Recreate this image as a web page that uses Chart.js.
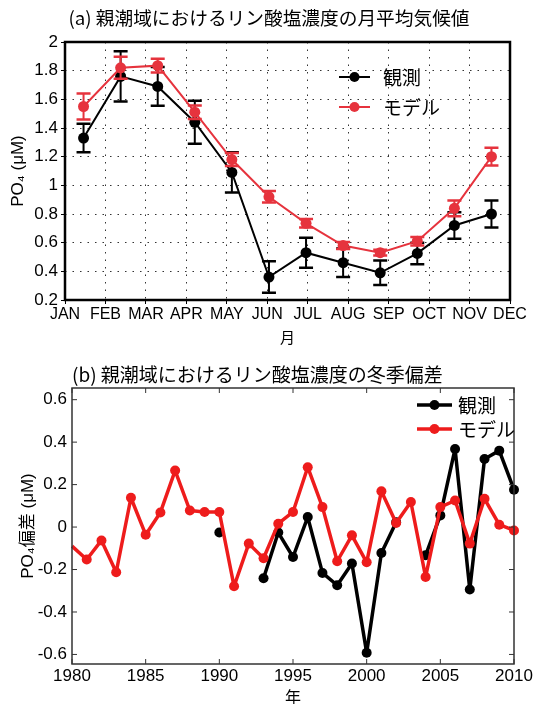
<!DOCTYPE html>
<html>
<head>
<meta charset="utf-8">
<script src="https://cdn.jsdelivr.net/npm/chart.js@4.4.1/dist/chart.umd.min.js"></script>
<style>
  html, body { margin: 0; padding: 0; background: #fff; overflow: hidden; width: 535px; height: 704px; }
  .box { position: absolute; left: 0; width: 535px; }
  #boxA { top: 0; height: 350px; }
  #boxB { top: 350px; height: 364px; }
</style>
</head>
<body>
<div class="box" id="boxA"><canvas id="climChart" width="535" height="350"></canvas></div>
<div class="box" id="boxB"><canvas id="anomChart" width="535" height="364"></canvas></div>
<script>
// (a) monthly climatology
const months = ['JAN', 'FEB', 'MAR', 'APR', 'MAY', 'JUN', 'JUL', 'AUG', 'SEP', 'OCT', 'NOV', 'DEC'];
const obsMean = [1.33, 1.76, 1.69, 1.44, 1.09, 0.36, 0.53, 0.46, 0.39, 0.525, 0.72, 0.80];
const obsErr = [0.10, 0.175, 0.135, 0.15, 0.14, 0.11, 0.105, 0.10, 0.085, 0.075, 0.093, 0.094];
const modelMean = [1.55, 1.82, 1.835, 1.51, 1.18, 0.92, 0.735, 0.58, 0.53, 0.61, 0.84, 1.20];
const modelErr = [0.09, 0.077, 0.048, 0.047, 0.045, 0.04, 0.03, 0.025, 0.02, 0.03, 0.055, 0.062];
const climYTicks = [0.2, 0.4, 0.6, 0.8, 1, 1.2, 1.4, 1.6, 1.8, 2];

// (b) winter anomaly
const years = [1980, 1981, 1982, 1983, 1984, 1985, 1986, 1987, 1988, 1989,
               1990, 1991, 1992, 1993, 1994, 1995, 1996, 1997, 1998, 1999,
               2000, 2001, 2002, 2003, 2004, 2005, 2006, 2007, 2008, 2009, 2010];
const obsAnom = [null, null, null, null, null, null, null, null, null, null,
                 -0.026, null, null, -0.241, -0.026, -0.141, 0.047, -0.216, -0.274, -0.172,
                 -0.592, -0.122, 0.023, null, -0.133, 0.055, 0.368, -0.294, 0.321, 0.36, 0.176];
const modelAnom = [-0.09, -0.153, -0.063, -0.213, 0.138, -0.036, 0.069, 0.266, 0.078, 0.071,
                   0.071, -0.279, -0.078, -0.147, 0.016, 0.071, 0.282, 0.094, -0.161, -0.039,
                   -0.166, 0.169, 0.019, 0.118, -0.235, 0.094, 0.125, -0.078, 0.133, 0.011, -0.016];
const anomXTicks = [1980, 1985, 1990, 1995, 2000, 2005, 2010];
const anomYTicks = [-0.6, -0.4, -0.2, 0, 0.2, 0.4, 0.6];

const seriesNames = ['観測', 'モデル'];

Chart.defaults.font.family = "'Liberation Sans', 'Noto Sans CJK JP', sans-serif";
Chart.defaults.color = '#000';

const cjk = "'Noto Sans CJK JP', sans-serif";
const narrow = "'Liberation Sans Narrow', 'Liberation Sans', sans-serif";

// error bars drawn under each dataset's own line
const errorBars = {
  id: 'errorBars',
  beforeDatasetDraw(chart, args) {
    const ds = chart.data.datasets[args.index];
    if (!ds.errors) return;
    const ctx = chart.ctx, x = chart.scales.x, y = chart.scales.y;
    ctx.save();
    ctx.strokeStyle = ds.borderColor;
    ds.data.forEach((p, i) => {
      const px = x.getPixelForValue(p.x);
      const top = y.getPixelForValue(p.y + ds.errors[i]);
      const bot = y.getPixelForValue(p.y - ds.errors[i]);
      ctx.lineWidth = 2;
      ctx.beginPath(); ctx.moveTo(px, top); ctx.lineTo(px, bot); ctx.stroke();
      ctx.lineWidth = 2.5;
      ctx.beginPath();
      ctx.moveTo(px - 7, top); ctx.lineTo(px + 7, top);
      ctx.moveTo(px - 7, bot); ctx.lineTo(px + 7, bot);
      ctx.stroke();
    });
    ctx.restore();
  }
};

// box round the plot, optional inward ticks, title and legend
const decor = {
  id: 'decor',
  afterDraw(chart, args, o) {
    const ctx = chart.ctx, a = chart.chartArea;
    ctx.save();
    ctx.strokeStyle = o.frameColor;
    ctx.lineWidth = o.frameWidth;
    ctx.strokeRect(a.left, a.top, a.right - a.left, a.bottom - a.top);
    if (o.inTicks) {
      ctx.lineWidth = 1;
      chart.scales.x.ticks.forEach(t => {
        const px = chart.scales.x.getPixelForValue(t.value);
        ctx.beginPath();
        ctx.moveTo(px, a.bottom); ctx.lineTo(px, a.bottom - 5);
        ctx.moveTo(px, a.top); ctx.lineTo(px, a.top + 5);
        ctx.stroke();
      });
      chart.scales.y.ticks.forEach(t => {
        const py = chart.scales.y.getPixelForValue(t.value);
        ctx.beginPath();
        ctx.moveTo(a.left, py); ctx.lineTo(a.left + 5, py);
        ctx.moveTo(a.right, py); ctx.lineTo(a.right - 5, py);
        ctx.stroke();
      });
    }
    // title
    ctx.fillStyle = '#000';
    ctx.font = o.titleFont;
    ctx.textAlign = o.titleAlign;
    ctx.textBaseline = 'middle';
    ctx.fillText(o.title, o.titleX, o.titleY);
    // legend (line with marker)
    ctx.textAlign = 'left';
    ctx.font = o.legendFont;
    o.legendOrder.forEach((di, row) => {
      const ds = chart.data.datasets[di];
      const y = o.legendY + row * o.legendGap;
      ctx.strokeStyle = ds.borderColor;
      ctx.lineWidth = ds.borderWidth;
      ctx.beginPath(); ctx.moveTo(o.legendX, y); ctx.lineTo(o.legendX + o.legendLen, y); ctx.stroke();
      ctx.fillStyle = ds.borderColor;
      ctx.beginPath(); ctx.arc(o.legendX + o.legendLen / 2, y, 5, 0, Math.PI * 2); ctx.fill();
      ctx.fillStyle = '#000';
      ctx.fillText(ds.label, o.legendX + o.legendLen + o.textGap, y + 1);
    });
    ctx.restore();
  }
};

const blackA = '#000000';
const redA = '#e6333d';

new Chart(document.getElementById('climChart'), {
  type: 'line',
  data: {
    datasets: [
      {
        label: seriesNames[0],
        data: obsMean.map((v, i) => ({ x: i + 0.5, y: v })),
        errors: obsErr,
        borderColor: blackA, backgroundColor: blackA,
        borderWidth: 2, pointRadius: 5.5, pointBorderWidth: 0,
        tension: 0, order: 1, clip: false
      },
      {
        label: seriesNames[1],
        data: modelMean.map((v, i) => ({ x: i + 0.5, y: v })),
        errors: modelErr,
        borderColor: redA, backgroundColor: redA,
        borderWidth: 2, pointRadius: 5.5, pointBorderWidth: 0,
        tension: 0, order: 0, clip: false
      }
    ]
  },
  options: {
    responsive: false,
    animation: false,
    layout: { padding: { top: 42, right: 25, left: 0, bottom: 0 } },
    plugins: {
      legend: { display: false },
      tooltip: { enabled: false },
      decor: {
        frameColor: '#000', frameWidth: 2.5, inTicks: false,
        title: '(a) 親潮域におけるリン酸塩濃度の月平均気候値',
        titleFont: '18.7px ' + cjk, titleAlign: 'center', titleX: 269, titleY: 18,
        legendFont: '19px ' + cjk, legendOrder: [0, 1],
        legendX: 339, legendLen: 31, legendY: 77, legendGap: 30, textGap: 13
      }
    },
    scales: {
      x: {
        type: 'linear', min: 0, max: 12,
        afterFit(s) { s.height = 50; },
        afterBuildTicks(s) { s.ticks = months.map((m, k) => ({ value: k * 12 / 11 })); },
        ticks: {
          autoSkip: false, maxRotation: 0, padding: 1,
          font: { family: narrow, size: 16 },
          callback: (v, i) => months[i]
        },
        grid: { color: '#333', lineWidth: 1, tickLength: 4, tickColor: '#000' },
        border: { dash: [1.5, 6], display: false },
        title: { display: true, text: '月', font: { family: cjk, size: 15 }, padding: { top: 0, bottom: 4 } }
      },
      y: {
        min: 0.2, max: 2,
        afterFit(s) { s.width = 65; },
        afterBuildTicks(s) { s.ticks = climYTicks.map(v => ({ value: v })); },
        ticks: {
          padding: 3,
          font: { family: narrow, size: 17 },
          callback: v => String(Math.round(v * 10) / 10)
        },
        grid: { color: '#333', lineWidth: 1, tickLength: 4, tickColor: '#000' },
        border: { dash: [1.5, 6], display: false },
        title: { display: true, text: 'PO₄ (μM)', font: { family: narrow, size: 17 }, padding: { top: 8, bottom: 0 } }
      }
    }
  },
  plugins: [errorBars, decor]
});

const redB = '#ee1c1c';

new Chart(document.getElementById('anomChart'), {
  type: 'line',
  data: {
    datasets: [
      {
        label: seriesNames[0],
        data: years.map((yr, i) => ({ x: yr, y: obsAnom[i] })),
        borderColor: '#000', backgroundColor: '#000',
        borderWidth: 3.5, pointBorderWidth: 0, borderJoinStyle: 'round',
        pointRadius: c => (c.raw && c.raw.x === 1980 ? 0 : 5),
        tension: 0, spanGaps: false, order: 1, clip: false
      },
      {
        label: seriesNames[1],
        data: years.map((yr, i) => ({ x: yr, y: modelAnom[i] })),
        borderColor: redB, backgroundColor: redB,
        borderWidth: 3.5, pointBorderWidth: 0, borderJoinStyle: 'round',
        pointRadius: c => (c.raw && c.raw.x === 1980 ? 0 : 5),
        tension: 0, order: 0, clip: false
      }
    ]
  },
  options: {
    responsive: false,
    animation: false,
    layout: { padding: { top: 38, right: 21, left: 0, bottom: 0 } },
    plugins: {
      legend: { display: false },
      tooltip: { enabled: false },
      decor: {
        frameColor: '#333', frameWidth: 1.5, inTicks: true,
        title: '(b) 親潮域におけるリン酸塩濃度の冬季偏差',
        titleFont: '19px ' + cjk, titleAlign: 'left', titleX: 72, titleY: 25,
        legendFont: '19px ' + cjk, legendOrder: [0, 1],
        legendX: 417, legendLen: 35, legendY: 55, legendGap: 24, textGap: 6
      }
    },
    scales: {
      x: {
        type: 'linear', min: 1980, max: 2010,
        afterFit(s) { s.height = 50; },
        afterBuildTicks(s) { s.ticks = anomXTicks.map(v => ({ value: v })); },
        ticks: { autoSkip: false, maxRotation: 0, padding: 2, font: { size: 17 }, callback: v => String(v) },
        grid: { display: false, drawTicks: false },
        border: { display: false },
        title: { display: true, text: '年', font: { family: cjk, size: 16 }, padding: { top: 0, bottom: 7 } }
      },
      y: {
        min: -0.645, max: 0.655,
        afterFit(s) { s.width = 72; },
        afterBuildTicks(s) { s.ticks = anomYTicks.map(v => ({ value: v })); },
        ticks: {
          padding: 5, font: { size: 17 },
          callback: v => String(Math.round(v * 10) / 10)
        },
        grid: { display: false, drawTicks: false },
        border: { display: false },
        title: { display: true, text: 'PO₄偏差 (μM)', font: { family: "'Liberation Sans', 'Noto Sans CJK JP', sans-serif", size: 17 }, padding: { top: 18, bottom: 0 } }
      }
    }
  },
  plugins: [errorBars, decor]
});
</script>
</body>
</html>
